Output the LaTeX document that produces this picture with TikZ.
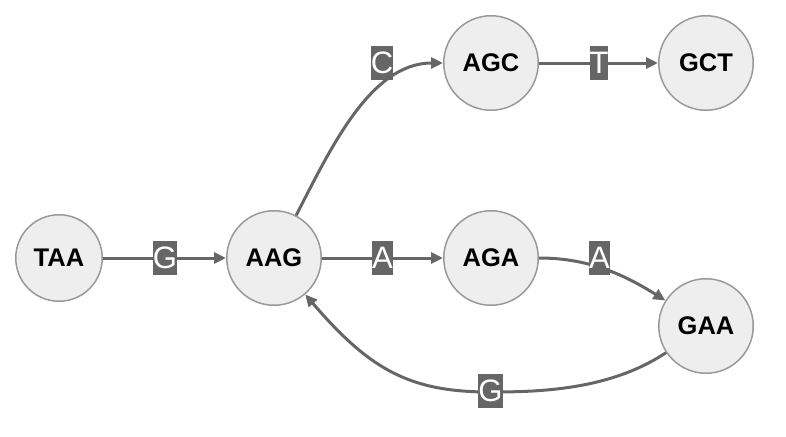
\documentclass[tikz,border=0pt]{standalone}
\usepackage{fontspec}
\setmainfont{Liberation Sans}
\usetikzlibrary{arrows.meta}
\definecolor{edgegray}{HTML}{666666}
\definecolor{nodefill}{HTML}{EEEEEE}
\definecolor{nodeline}{HTML}{999999}
\begin{document}
\begin{tikzpicture}[x=1pt,y=-1pt,
  kmer/.style={circle, draw=nodeline, fill=nodefill, line width=1.5pt, minimum size=94.5pt, inner sep=0pt, font=\fontsize{25.5}{30}\selectfont\bfseries},
  elabel/.style={fill=edgegray, text=white, inner sep=0pt, text height=27pt, text depth=7pt, font=\fontsize{31}{36}\selectfont},
  edge/.style={draw=edgegray, line width=3pt, -{Triangle[length=12pt,width=11pt]}},
]
\useasboundingbox (0,0) rectangle (786,436);
\node[kmer, minimum size=86.5pt] (TAA) at (59,258) {TAA};
\node[kmer] (AAG) at (274,258) {AAG};
\node[kmer] (AGC) at (491,63) {AGC};
\node[kmer] (GCT) at (706,63) {GCT};
\node[kmer] (AGA) at (491,258) {AGA};
\node[kmer] (GAA) at (706,326) {GAA};

\draw[edge] (TAA) -- (AAG);
\draw[edge] (AAG) -- (AGA);
\draw[edge] (AGC) -- (GCT);
\draw[edge] (AAG) .. controls (330,150) and (370,63) .. (AGC);
\draw[edge] (AGA) .. controls (585,258) and (620,272) .. (GAA);
\draw[edge] (GAA) .. controls (610,390) and (540,392) .. (490,392) .. controls (410,392) and (370,370) .. (AAG);

\node[elabel] (lG1) at (165,258) {G};
\node[elabel] (lA1) at (382.5,258) {A};
\node[elabel] (lC) at (382,63) {C};
\node[elabel] (lT) at (599,63) {T};
\node[elabel] (lA2) at (599.5,258) {A};
\node[elabel] (lG2) at (490.5,391) {G};
\end{tikzpicture}
\end{document}
